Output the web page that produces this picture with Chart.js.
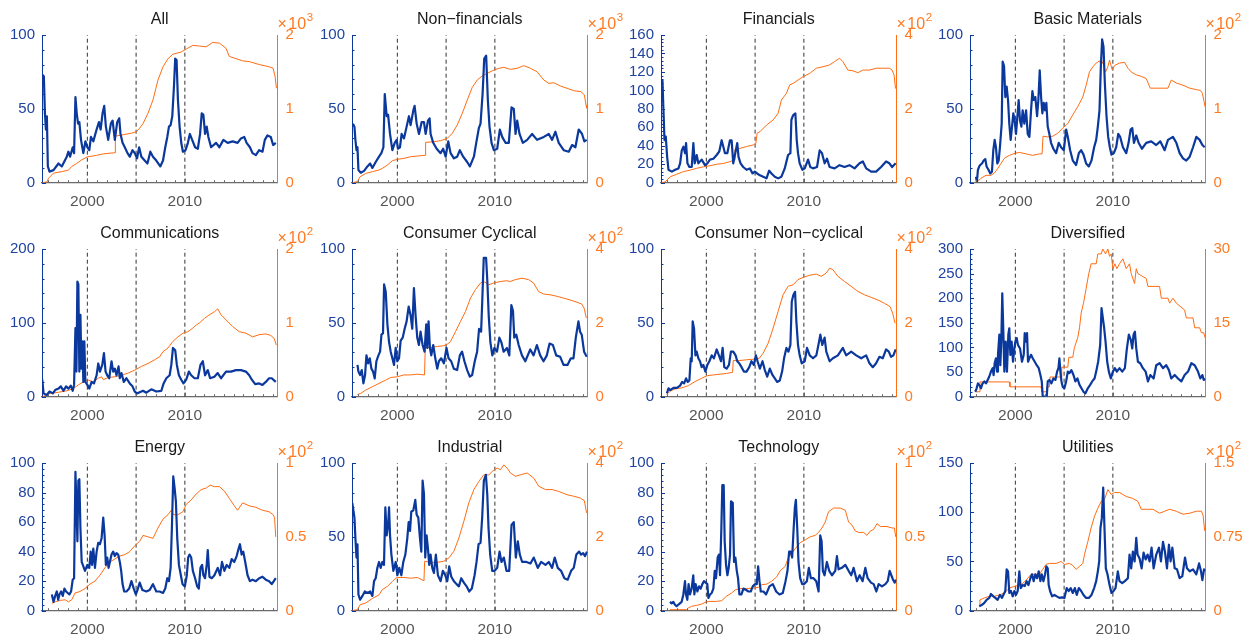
<!DOCTYPE html>
<html>
<head>
<meta charset="utf-8">
<script src="https://cdn.jsdelivr.net/npm/chart.js@4.4.0/dist/chart.umd.min.js"></script>
<style>
  html, body { margin: 0; padding: 0; background: #fff; }
  body { width: 1255px; height: 641px; position: relative; overflow: hidden; }
  canvas { position: absolute; }
</style>
</head>
<body>
<script>
// ---- data: [year, value] pairs ----
const allLeft = [[1995.38,73],[1995.54,72],[1995.65,47],[1995.75,36],[1995.85,45],[1995.95,11],[1996.12,7.5],[1996.53,8.5],[1997.04,13],[1997.38,11],[1997.89,17.6],[1998.06,21],[1998.23,17.6],[1998.5,24],[1998.64,20],[1998.78,58],[1998.91,47],[1999.05,40],[1999.18,41],[1999.35,29],[1999.59,20],[1999.8,28],[2000,24],[2000.2,22],[2000.37,31],[2000.61,28],[2000.95,36],[2001.19,41],[2001.36,36],[2001.56,47],[2001.73,52],[2001.9,38],[2002.14,29],[2002.41,40],[2002.59,42],[2002.82,29],[2003.06,41],[2003.27,43.6],[2003.4,33],[2003.61,27],[2003.84,24],[2004.12,20],[2004.35,17.6],[2004.63,22],[2004.86,20],[2005.1,16.5],[2005.31,24],[2005.54,17.6],[2005.88,15],[2006.16,13],[2006.46,21],[2006.73,17.6],[2007.07,15],[2007.48,11],[2007.76,15],[2007.99,24],[2008.2,31],[2008.37,38],[2008.54,39],[2008.71,45],[2008.88,65],[2009.01,84],[2009.15,83],[2009.29,56],[2009.46,38],[2009.63,27],[2009.8,21],[2010.07,22],[2010.31,27],[2010.51,33],[2010.75,29],[2011.05,24],[2011.33,23],[2011.56,33],[2011.73,47],[2011.9,46],[2012.07,33],[2012.24,38],[2012.41,31],[2012.69,24],[2013.2,27],[2013.54,24],[2013.95,29],[2014.39,27],[2014.9,28],[2015.41,27],[2015.75,30],[2016.09,31],[2016.33,27],[2016.67,24],[2016.94,20],[2017.28,18.7],[2017.62,22],[2017.96,21],[2018.2,29],[2018.47,32],[2018.81,31],[2019.05,25.5],[2019.32,27]];
const allRight = [[1995.38,0],[1995.85,10],[1996.02,60],[1996.53,130],[1997.38,150],[1998.06,170],[1998.4,220],[1998.91,260],[1999.42,310],[2000,350],[2000.95,370],[2001.63,390],[2002.31,400],[2002.84,405],[2002.87,630],[2003.67,650],[2004.52,670],[2005.03,690],[2005.37,740],[2005.71,800],[2006.22,940],[2006.73,1120],[2007.24,1390],[2007.76,1570],[2008.27,1680],[2008.78,1740],[2009.63,1770],[2010.14,1810],[2010.82,1860],[2011.5,1850],[2012.18,1840],[2012.86,1900],[2013.54,1890],[2014.22,1820],[2014.56,1710],[2015.24,1680],[2015.92,1650],[2016.6,1640],[2017.62,1600],[2018.64,1570],[2019.05,1550],[2019.25,1440],[2019.39,1280]];

const nonFinLeft = [[1995.38,40],[1995.6,38],[1995.7,29],[1995.81,22],[1995.91,24],[1996.01,8.6],[1996.25,6.8],[1996.59,8],[1996.93,11],[1997.21,13],[1997.44,10],[1997.78,14],[1998.12,17.6],[1998.36,20],[1998.57,24],[1998.71,60],[1998.91,45],[1999.05,46],[1999.25,33],[1999.49,22],[1999.73,27],[1999.93,29],[2000.07,23],[2000.27,24],[2000.44,33],[2000.68,30],[2001.02,40],[2001.19,45],[2001.36,39],[2001.64,49],[2001.77,52],[2001.98,40],[2002.22,33],[2002.49,41],[2002.73,41],[2002.9,33],[2003.14,42],[2003.31,43.6],[2003.41,33],[2003.68,27],[2004.03,23],[2004.43,20],[2004.7,23],[2004.95,17.6],[2005.22,28],[2005.46,20],[2005.8,16.5],[2006.14,17.6],[2006.41,22],[2006.75,17.6],[2007.16,14],[2007.44,11],[2007.85,17.6],[2008.09,27],[2008.36,37],[2008.53,40],[2008.74,60],[2008.91,84],[2009.11,86],[2009.28,56],[2009.45,38],[2009.66,27],[2009.9,22],[2010.24,23],[2010.51,36],[2010.75,31],[2011.09,27],[2011.43,27],[2011.71,51],[2011.94,50],[2012.12,33],[2012.29,42],[2012.53,33],[2012.87,27],[2013.31,29],[2013.82,33],[2014.33,29],[2015.02,31],[2015.53,33],[2015.87,29],[2016.21,34.5],[2016.55,27],[2017.06,22],[2017.58,21],[2017.92,25.5],[2018.26,24],[2018.6,36],[2018.94,33],[2019.18,28],[2019.42,29]];
const nonFinRight = [[1995.38,0],[1995.9,14],[1996.18,81],[1996.76,126],[1997.44,149],[1998.12,172],[1998.46,194],[1998.98,239],[1999.49,298],[2000,316],[2000.68,330],[2001.36,352],[2002.05,361],[2002.73,370],[2002.86,370],[2002.9,546],[2003.75,555],[2004.44,569],[2005.12,600],[2005.63,668],[2006.14,781],[2006.66,939],[2007.17,1120],[2007.68,1291],[2008.19,1390],[2008.7,1445],[2009.22,1481],[2009.9,1526],[2010.41,1549],[2010.92,1562],[2011.6,1535],[2012.29,1549],[2012.97,1585],[2013.65,1549],[2014.33,1503],[2015.02,1390],[2015.53,1345],[2016.04,1354],[2016.72,1309],[2017.41,1278],[2018.09,1246],[2018.84,1233],[2019.18,1187],[2019.35,1052],[2019.44,1007]];

const finLeft = [[1995.38,111],[1995.5,111],[1995.6,79],[1995.71,46],[1995.84,50],[1995.98,28],[1996.12,14],[1996.46,12],[1996.8,14],[1997.14,15.5],[1997.31,21],[1997.48,35],[1997.65,39],[1997.82,32],[1997.92,43],[1998.06,21],[1998.26,17],[1998.5,17],[1998.67,43],[1998.81,21],[1999.01,30],[1999.18,21],[1999.52,25],[1999.86,19],[2000.1,21],[2000.37,25],[2000.72,26],[2001.06,30],[2001.33,34],[2001.57,46],[2001.74,39],[2001.91,32],[2002.15,32],[2002.42,46],[2002.59,46],[2002.76,21],[2002.93,30],[2003.17,43],[2003.3,28],[2003.51,21],[2003.78,17],[2004.12,14],[2004.46,15.5],[2004.74,10],[2004.97,12],[2005.21,10],[2005.49,8],[2005.83,6.5],[2006.17,4.7],[2006.44,13],[2006.68,10],[2007.02,6.5],[2007.36,4.7],[2007.7,6.5],[2008.04,15.5],[2008.38,30],[2008.62,32],[2008.72,68],[2008.89,73],[2009.13,75],[2009.27,46],[2009.4,32],[2009.57,21],[2009.85,14],[2010.09,15.5],[2010.43,25],[2010.66,17],[2010.94,15.5],[2011.35,17],[2011.62,35],[2011.86,32],[2012.13,21],[2012.37,26],[2012.64,17],[2013.15,15.5],[2013.66,19],[2014.17,17],[2014.68,19],[2015.2,15.5],[2015.71,21],[2016.05,23],[2016.39,15.5],[2016.9,12],[2017.41,12],[2017.92,17],[2018.43,23],[2018.77,21],[2019.05,17],[2019.42,21]];
const finRight = [[1995.38,0],[1995.78,2],[1995.95,7],[1996.29,16],[1996.97,23],[1997.65,30],[1998.33,34],[1999.01,39],[1999.69,43],[2000.37,46],[2001.06,50],[2001.74,52],[2002.42,57],[2002.76,61],[2002.9,61],[2002.93,90],[2003.44,93],[2004.12,98],[2004.8,102],[2005.08,107],[2005.21,134],[2005.49,138],[2006.17,156],[2006.85,170],[2007.36,188],[2007.7,224],[2008.21,242],[2008.55,265],[2008.89,269],[2009.4,278],[2009.91,287],[2010.6,296],[2011.28,310],[2011.96,314],[2012.64,319],[2013.15,328],[2013.66,337],[2014,328],[2014.51,305],[2015.03,303],[2015.54,298],[2016.05,305],[2016.73,305],[2017.41,310],[2018.09,310],[2018.77,310],[2019.05,305],[2019.25,292],[2019.4,255]];

const basicLeft = [[1995.96,4],[1996.06,0.7],[1996.16,8.6],[1996.3,11],[1996.4,12],[1996.58,13],[1996.75,15],[1996.92,16],[1997.05,11],[1997.26,8.6],[1997.43,6.3],[1997.6,7.4],[1997.74,22],[1997.88,29],[1998.01,24],[1998.15,13],[1998.29,15],[1998.42,24],[1998.6,40],[1998.7,82],[1998.84,79],[1998.97,58],[1999.11,65],[1999.25,56],[1999.38,40],[1999.52,29],[1999.66,38],[1999.79,47],[1999.93,42],[2000.07,33],[2000.21,45],[2000.34,56],[2000.48,42],[2000.62,38],[2000.75,49],[2000.92,40],[2001.1,49],[2001.27,33],[2001.44,31],[2001.61,49],[2001.75,62],[2001.88,56],[2002.05,58],[2002.23,45],[2002.36,56],[2002.5,76],[2002.64,58],[2002.77,47],[2002.91,54],[2003.05,49],[2003.18,54],[2003.32,38],[2003.49,33],[2003.66,27],[2003.9,23],[2004.18,20],[2004.45,27],[2004.69,24],[2004.97,22],[2005.21,36],[2005.38,31],[2005.62,22],[2005.89,15],[2006.23,12],[2006.51,20],[2006.75,22],[2006.99,19],[2007.26,13],[2007.53,11],[2007.81,15],[2008.08,24],[2008.29,29],[2008.46,38],[2008.63,49],[2008.77,79],[2008.9,97],[2009.04,92],[2009.18,67],[2009.35,45],[2009.52,31],[2009.69,24],[2009.86,19],[2010.1,20],[2010.34,24],[2010.55,33],[2010.75,31],[2011.03,24],[2011.37,20],[2011.61,27],[2011.82,36],[2011.99,37],[2012.16,27],[2012.4,32],[2012.64,27],[2012.98,23],[2013.42,27],[2013.94,28],[2014.45,25.5],[2014.86,28],[2015.31,22],[2015.65,29],[2016.16,31],[2016.51,27],[2016.85,20],[2017.19,16.5],[2017.53,15],[2017.88,17.6],[2018.22,24],[2018.56,31],[2018.9,29],[2019.18,25.5],[2019.42,24]];
const basicRight = [[1995.96,0],[1996.13,1.4],[1996.47,6],[1996.99,10],[1997.5,10],[1997.84,13],[1998.18,19],[1998.53,26],[1998.87,33],[1999.38,37],[2000,40],[2000.41,41],[2001.1,39],[2001.78,37],[2002.47,39],[2002.74,39],[2002.84,63],[2003.32,62],[2003.84,63],[2004.35,67],[2004.86,74],[2005.38,80],[2005.89,92],[2006.4,103],[2006.92,116],[2007.26,132],[2007.6,150],[2007.95,157],[2008.29,162],[2008.63,165],[2008.8,159],[2008.97,164],[2009.25,150],[2009.49,157],[2009.66,166],[2009.93,153],[2010.21,159],[2010.68,162],[2011.2,163],[2011.54,155],[2011.88,150],[2012.4,146],[2012.91,144],[2013.42,141],[2013.84,128],[2014.45,128],[2015.14,128],[2015.65,128],[2015.99,139],[2016.51,135],[2017.19,132],[2017.88,128],[2018.56,126],[2018.97,125],[2019.18,121],[2019.35,110],[2019.45,103]];

const commLeft = [[1995.38,23],[1995.51,4.5],[1995.85,2.3],[1996.12,7],[1996.46,4.5],[1996.7,9],[1997.04,11],[1997.28,14],[1997.55,8],[1997.82,14],[1998.06,11],[1998.3,15],[1998.5,8],[1998.64,16],[1998.78,93],[1998.88,34],[1998.98,156],[1999.08,152],[1999.18,34],[1999.29,111],[1999.39,38],[1999.49,75],[1999.59,20],[1999.69,75],[1999.8,20],[2000,16],[2000.2,11],[2000.44,20],[2000.68,18],[2000.95,29],[2001.12,45],[2001.29,34],[2001.53,43],[2001.7,59],[2001.87,34],[2002.04,29],[2002.24,25],[2002.48,48],[2002.65,34],[2002.82,38],[2002.99,29],[2003.2,41],[2003.33,25],[2003.5,32],[2003.74,20],[2004.01,25],[2004.35,18],[2004.63,14],[2004.86,7],[2005.1,4.5],[2005.37,6],[2005.71,8],[2006.05,5.4],[2006.56,10],[2007.07,7],[2007.59,8],[2007.82,18],[2008.1,25],[2008.44,29],[2008.61,43],[2008.78,66],[2009.01,63],[2009.18,43],[2009.39,29],[2009.63,23],[2009.86,18],[2010.14,23],[2010.41,34],[2010.65,29],[2010.99,25],[2011.33,25],[2011.6,43],[2011.84,48],[2012.07,29],[2012.35,36],[2012.59,25],[2013.03,27],[2013.37,32],[2013.71,25],[2014.22,34],[2014.73,34],[2015.24,36],[2015.75,36],[2016.26,34],[2016.6,29],[2016.87,23],[2017.21,17],[2017.62,18],[2017.96,16],[2018.3,20],[2018.64,25],[2018.91,25],[2019.32,20]];
const commRight = [[1995.38,0],[1995.68,1.4],[1996.19,4.5],[1997.04,6],[1997.89,8],[1998.57,11],[1999.08,16],[1999.59,20],[2000,23],[2000.61,20],[2001.12,25],[2001.46,27],[2001.63,23],[2002.14,26],[2002.82,27],[2003.5,29],[2004.18,32],[2004.86,36],[2005.54,41],[2006.22,45],[2006.9,50],[2007.41,54],[2007.76,61],[2008.27,66],[2008.78,75],[2009.29,81],[2009.8,86],[2010.31,88],[2010.82,93],[2011.16,97],[2011.5,100],[2012.01,106],[2012.52,111],[2013.03,115],[2013.37,119],[2013.71,111],[2014.22,104],[2014.9,95],[2015.58,88],[2016.26,86],[2016.94,81],[2017.62,84],[2018.3,85],[2018.81,83],[2019.15,79],[2019.38,70]];

const cycLeft = [[1995.91,21.5],[1996.01,17],[1996.18,14.7],[1996.35,18],[1996.52,9],[1996.69,14.7],[1996.83,28],[1997,22.6],[1997.17,26],[1997.34,19],[1997.51,17],[1997.68,12.4],[1997.85,24],[1998.06,28],[1998.23,30.5],[1998.37,42],[1998.53,43],[1998.64,76],[1998.81,71],[1998.98,49],[1999.15,37],[1999.32,30.5],[1999.49,26],[1999.66,21.5],[1999.83,33],[2000,24],[2000.17,26],[2000.34,38],[2000.55,40],[2000.75,46],[2000.95,51],[2001.16,61],[2001.36,55],[2001.53,46],[2001.7,73.5],[2001.87,55],[2002.04,40],[2002.21,35],[2002.38,44],[2002.59,35],[2002.79,30.5],[2002.96,49],[2003.07,33],[2003.2,51],[2003.34,33],[2003.48,28],[2003.68,35],[2003.89,26],[2004.09,19],[2004.26,24],[2004.5,26],[2004.77,22.6],[2005.04,33],[2005.25,26],[2005.52,24],[2005.79,19],[2006.13,18],[2006.41,28],[2006.64,30.5],[2006.88,24],[2007.16,18],[2007.43,13.6],[2007.67,14.7],[2007.94,24],[2008.18,30.5],[2008.38,46],[2008.59,44],[2008.72,67],[2008.86,94],[2009.1,94],[2009.23,78],[2009.37,55],[2009.54,37],[2009.74,28],[2009.95,33],[2010.22,30.5],[2010.46,40],[2010.66,37],[2010.9,30.5],[2011.24,33],[2011.48,28],[2011.69,62],[2011.86,58],[2011.99,40],[2012.2,42],[2012.44,35],[2012.78,28],[2013.12,24],[2013.63,32],[2013.97,28],[2014.31,35],[2014.65,28],[2014.99,24],[2015.33,28],[2015.61,36],[2015.95,35],[2016.29,28],[2016.7,27],[2017.04,21.5],[2017.45,21.5],[2017.79,26],[2018.06,26],[2018.3,40],[2018.57,51],[2018.74,44],[2018.91,42],[2019.15,30.5],[2019.42,27]];
const cycRight = [[1995.91,6],[1996.25,9],[1996.76,18],[1997.44,27],[1998.12,36],[1998.81,45],[1999.32,52],[2000,54],[2000.68,59],[2001.36,59],[2002.04,61],[2002.79,59],[2002.86,133],[2003.41,133],[2004.09,136],[2004.77,138],[2005.11,142],[2005.45,149],[2005.96,176],[2006.48,204],[2006.99,231],[2007.5,267],[2008.01,290],[2008.53,308],[2008.87,312],[2009.37,303],[2009.88,308],[2010.56,312],[2011.24,314],[2011.58,312],[2012.09,317],[2012.78,321],[2013.46,317],[2013.97,308],[2014.48,285],[2014.99,278],[2015.67,276],[2016.36,272],[2017.04,267],[2017.72,262],[2018.4,256],[2018.91,251],[2019.15,240],[2019.38,213]];

const nonCycLeft = [[1995.95,2.3],[1996.12,5.7],[1996.29,4.5],[1996.63,6],[1996.97,6],[1997.31,7.5],[1997.51,10],[1997.72,9],[1997.92,12.4],[1998.09,10],[1998.26,11],[1998.4,26],[1998.5,24],[1998.6,51],[1998.74,46],[1998.88,28],[1999.01,30.5],[1999.18,26],[1999.35,24],[1999.52,20],[1999.69,21.5],[1999.9,17],[2000.1,21.5],[2000.31,24],[2000.55,28],[2000.78,26],[2001.06,32],[2001.29,28],[2001.5,24],[2001.67,33],[2001.84,20],[2002.08,19],[2002.32,21.5],[2002.52,30.5],[2002.76,30.5],[2003,28],[2003.17,24],[2003.37,22.6],[2003.61,20],[2003.85,17],[2004.12,17],[2004.4,20],[2004.63,24],[2004.87,21.5],[2005.08,28],[2005.25,24],[2005.49,19],[2005.76,24],[2006,18],[2006.24,13.6],[2006.51,19],[2006.78,14.7],[2007.02,12.4],[2007.26,10],[2007.53,11],[2007.77,17],[2007.97,26],[2008.21,33],[2008.42,30.5],[2008.62,35],[2008.76,64.5],[2008.93,69],[2009.1,71],[2009.23,51],[2009.4,35],[2009.57,28],[2009.78,22.6],[2010.09,24],[2010.32,33],[2010.6,28],[2010.94,26],[2011.28,28],[2011.55,37],[2011.69,42],[2011.89,35],[2012.13,40],[2012.3,30.5],[2012.64,24],[2012.98,26],[2013.49,28],[2014,33],[2014.34,28],[2014.85,30.5],[2015.37,28],[2015.88,26],[2016.39,28],[2016.73,22.6],[2017.07,20],[2017.41,22.6],[2017.75,27],[2018.09,26],[2018.43,32],[2018.71,30.5],[2018.94,27],[2019.18,28],[2019.42,32]];
const nonCycRight = [[1995.95,6],[1996.29,15],[1996.8,21],[1997.48,24],[1998.16,30],[1998.84,41],[1999.52,50],[2000.1,57],[2000.72,59],[2001.4,61],[2002.08,63],[2002.69,66],[2002.76,98],[2003.44,98],[2004.12,100],[2004.97,102],[2005.42,104],[2005.83,118],[2006.34,145],[2006.85,186],[2007.36,231],[2007.87,276],[2008.38,299],[2008.89,303],[2009.4,317],[2009.91,323],[2010.6,329],[2011.28,332],[2011.79,326],[2012.3,335],[2012.64,348],[2012.98,344],[2013.49,326],[2014.17,312],[2014.85,299],[2015.54,285],[2016.22,276],[2016.9,269],[2017.58,262],[2018.26,253],[2018.84,244],[2019.11,226],[2019.35,199]];

const divLeft = [[1995.89,10],[1996.03,17],[1996.16,27],[1996.3,24],[1996.47,17],[1996.64,27],[1996.82,31],[1996.99,27],[1997.16,34],[1997.33,41],[1997.5,51],[1997.67,58],[1997.77,44],[1997.88,68],[1998.01,78],[1998.12,51],[1998.22,85],[1998.36,126],[1998.46,64],[1998.56,112],[1998.66,210],[1998.77,132],[1998.87,51],[1999.01,112],[1999.14,51],[1999.28,126],[1999.38,139],[1999.49,85],[1999.62,112],[1999.76,71],[1999.9,98],[2000,112],[2000.14,119],[2000.27,105],[2000.48,98],[2000.68,71],[2000.86,85],[2000.96,129],[2001.1,112],[2001.2,129],[2001.3,71],[2001.44,78],[2001.61,85],[2001.78,78],[2001.99,71],[2002.19,64],[2002.4,58],[2002.57,44],[2002.71,31],[2002.81,0],[2003.01,0],[2003.22,0],[2003.32,31],[2003.49,34],[2003.7,27],[2003.9,37],[2004.11,34],[2004.28,51],[2004.42,58],[2004.52,78],[2004.62,51],[2004.73,31],[2004.86,20],[2005.03,17],[2005.21,31],[2005.38,51],[2005.55,48],[2005.75,54],[2005.96,44],[2006.16,31],[2006.37,37],[2006.58,24],[2006.78,17],[2006.99,10],[2007.19,7],[2007.43,17],[2007.67,24],[2007.88,31],[2008.12,37],[2008.29,51],[2008.49,71],[2008.7,105],[2008.84,180],[2008.97,160],[2009.11,139],[2009.25,112],[2009.42,71],[2009.59,51],[2009.79,37],[2010,51],[2010.21,58],[2010.41,51],[2010.68,58],[2010.96,51],[2011.23,58],[2011.44,98],[2011.64,126],[2011.85,115],[2011.99,98],[2012.12,126],[2012.26,132],[2012.4,98],[2012.57,71],[2012.81,68],[2013.08,58],[2013.36,51],[2013.6,31],[2013.84,44],[2014.18,37],[2014.45,64],[2014.79,68],[2015.14,58],[2015.48,64],[2015.75,54],[2015.99,37],[2016.34,44],[2016.68,37],[2017.02,31],[2017.36,44],[2017.71,51],[2018.05,68],[2018.39,64],[2018.73,51],[2018.97,37],[2019.18,44],[2019.32,34],[2019.45,37]];
const divRight = [[1995.89,1],[1996.3,1],[1996.37,3],[1999.38,3],[1999.45,2],[2002.64,2],[2002.71,1],[2003.15,1],[2003.22,2],[2003.49,2],[2003.56,4],[2004.69,4],[2004.76,6],[2005.38,6],[2005.48,8],[2005.89,8],[2006.06,10],[2006.23,11],[2006.4,12],[2006.58,14],[2006.75,17],[2006.99,19],[2007.26,22],[2007.53,25],[2007.77,27],[2008.29,27],[2008.46,29],[2008.8,29],[2008.97,30],[2009.25,29],[2009.49,30],[2009.66,28.5],[2009.83,29],[2010,26],[2010.21,27],[2010.41,26],[2010.68,27],[2011.03,28],[2011.37,26],[2011.71,27],[2011.88,25],[2012.23,23],[2012.4,26],[2012.57,25],[2013.08,24.4],[2013.42,24],[2013.6,22.4],[2014.79,22.4],[2014.97,20],[2015.65,20],[2015.82,19],[2016.16,20],[2016.51,19],[2017.36,17.6],[2017.53,16],[2018.22,16],[2018.39,14],[2018.9,14],[2019.08,13],[2019.32,13],[2019.45,12]];

const energyLeft = [[1996.36,11],[1996.53,6],[1996.7,10],[1996.87,13],[1997.01,7.4],[1997.14,11],[1997.31,13],[1997.48,10],[1997.65,15],[1997.82,13],[1997.99,12],[1998.16,11],[1998.33,13],[1998.5,21],[1998.64,22],[1998.78,94],[1998.88,72],[1998.98,47],[1999.08,88],[1999.18,89],[1999.29,56],[1999.42,33],[1999.59,30],[1999.76,27],[2000,31],[2000.2,29],[2000.34,40],[2000.48,31],[2000.61,42],[2000.78,29],[2000.95,40],[2001.12,46],[2001.29,45],[2001.46,49],[2001.63,63],[2001.77,51],[2001.9,31],[2002.04,36],[2002.18,29],[2002.31,33],[2002.48,38],[2002.65,40],[2002.82,37],[2002.99,39],[2003.16,38],[2003.33,33],[2003.47,27],[2003.61,18],[2003.78,13],[2004.01,13],[2004.29,15],[2004.52,20],[2004.76,15],[2004.97,11],[2005.14,14],[2005.37,19],[2005.65,14],[2006.05,13],[2006.39,14],[2006.73,18],[2007.07,13],[2007.41,13],[2007.76,12],[2007.99,15],[2008.2,22],[2008.37,20],[2008.54,29],[2008.67,56],[2008.81,91],[2008.95,83],[2009.08,74],[2009.22,49],[2009.39,31],[2009.59,24],[2009.76,18],[2010,16.5],[2010.2,24],[2010.34,36],[2010.48,38],[2010.65,36],[2010.82,27],[2011.05,22],[2011.26,16.5],[2011.43,15],[2011.6,29],[2011.77,31],[2011.9,24],[2012.07,22],[2012.24,31],[2012.35,41],[2012.52,23],[2012.76,22],[2013.03,24],[2013.37,29],[2013.61,24],[2013.81,33],[2014.05,27],[2014.29,31],[2014.56,29],[2014.8,35],[2015.07,33],[2015.31,37],[2015.51,42],[2015.65,45],[2015.82,38],[2015.99,40],[2016.19,33],[2016.43,24],[2016.67,20],[2016.94,21],[2017.28,20],[2017.62,22],[2017.96,23],[2018.3,21],[2018.64,20],[2018.91,18],[2019.12,20],[2019.32,22]];
const energyRight = [[1996.36,5],[1996.7,6],[1997.21,7],[1997.72,7.4],[1998.06,6],[1998.4,7.4],[1998.74,12],[1999.25,13],[1999.76,15],[2000.27,18],[2000.78,20],[2001.29,24],[2001.8,29],[2002.31,33],[2002.82,35],[2003.33,37],[2003.84,38],[2004.35,40],[2004.86,44],[2005.37,47],[2005.71,51],[2006.22,50],[2006.73,49],[2007.24,56],[2007.76,62],[2008.27,65],[2008.61,68],[2008.84,65],[2009.29,65],[2009.8,67],[2010.14,72],[2010.65,75],[2011.16,79],[2011.67,82],[2012.18,83],[2012.59,85],[2013.03,84],[2013.54,84],[2014.05,81],[2014.56,76],[2015.07,71],[2015.41,68],[2015.92,73],[2016.6,71],[2017.28,70],[2017.96,68],[2018.64,67],[2019.05,65],[2019.2,63],[2019.32,50]];

const indLeft = [[1995.38,73],[1995.6,63],[1995.7,49],[1995.81,36],[1995.91,45],[1996.01,11],[1996.18,7.4],[1996.42,10],[1996.66,13],[1996.93,12],[1997.21,13],[1997.44,10],[1997.61,20],[1997.78,22],[1997.95,29],[1998.12,33],[1998.29,29],[1998.46,33],[1998.63,31],[1998.77,70],[1998.91,51],[1999.05,58],[1999.15,70],[1999.25,51],[1999.39,38],[1999.59,27],[1999.83,33],[2000,24],[2000.2,29],[2000.41,24],[2000.61,33],[2000.82,38],[2001.02,49],[2001.16,60],[2001.3,54],[2001.43,67],[2001.64,68],[2001.84,75],[2001.98,65],[2002.15,63],[2002.32,49],[2002.46,40],[2002.59,88],[2002.73,79],[2002.86,36],[2003,51],[2003.14,42],[2003.27,31],[2003.41,38],[2003.58,29],[2003.75,25.5],[2003.95,38],[2004.16,24],[2004.43,20],[2004.67,27],[2004.91,24],[2005.12,20],[2005.32,30],[2005.53,23],[2005.8,20],[2006.07,18],[2006.31,16.5],[2006.55,22],[2006.82,19],[2007.1,16.5],[2007.37,13],[2007.64,15],[2007.92,24],[2008.12,33],[2008.33,45],[2008.53,46],[2008.7,63],[2008.87,88],[2009.08,92],[2009.22,79],[2009.35,56],[2009.52,38],[2009.73,27],[2009.97,27],[2010.24,29],[2010.48,40],[2010.68,33],[2010.92,36],[2011.19,27],[2011.47,27],[2011.71,58],[2011.94,60],[2012.15,36],[2012.35,47],[2012.56,38],[2012.8,33],[2013.24,33],[2013.65,32],[2013.99,36],[2014.4,29],[2014.74,33],[2015.19,31],[2015.53,33],[2015.87,29],[2016.14,36],[2016.45,29],[2016.79,27],[2017.13,22],[2017.47,21],[2017.82,27],[2018.09,29],[2018.36,38],[2018.64,40],[2018.84,38],[2019.05,39],[2019.25,37],[2019.45,40]];
const indRight = [[1995.38,0],[1995.91,3],[1996.18,16],[1996.76,21],[1997.44,33],[1998.12,43],[1998.46,57],[1998.98,66],[1999.49,79],[1999.83,88],[2000,90],[2000.68,90],[2001.36,88],[2002.05,90],[2002.73,81],[2002.8,134],[2003.41,131],[2004.09,131],[2004.77,134],[2005.29,143],[2005.8,161],[2006.31,197],[2006.82,242],[2007.33,292],[2007.85,328],[2008.36,350],[2008.87,368],[2009.38,368],[2009.73,377],[2010.24,386],[2010.58,382],[2010.92,395],[2011.26,386],[2011.6,373],[2012.11,364],[2012.62,368],[2013.31,373],[2013.99,359],[2014.5,337],[2015.19,328],[2015.87,328],[2016.55,323],[2017.41,314],[2018.09,310],[2018.77,305],[2019.18,298],[2019.4,265]];

const techLeft = [[1996.27,6],[1996.44,5],[1996.61,6],[1996.78,4],[1996.95,3],[1997.12,4],[1997.29,5],[1997.47,6],[1997.64,11],[1997.81,20],[1997.91,11],[1998.05,7.4],[1998.18,18],[1998.32,11],[1998.49,15],[1998.66,24],[1998.77,11],[1998.9,18],[1999.08,13],[1999.25,16.5],[1999.42,15],[1999.59,18],[1999.76,20],[1999.93,19],[2000.1,18],[2000.21,8.6],[2000.38,11],[2000.55,12],[2000.72,15],[2000.86,27],[2000.99,22],[2001.16,36],[2001.3,38],[2001.4,24],[2001.54,56],[2001.64,85],[2001.78,85],[2001.88,47],[2002.02,31],[2002.16,24],[2002.29,29],[2002.43,38],[2002.53,74],[2002.71,73],[2002.84,33],[2002.98,36],[2003.12,27],[2003.25,22],[2003.39,11],[2003.6,11],[2003.8,15],[2004.08,14],[2004.32,13],[2004.55,13],[2004.76,16.5],[2005,18],[2005.17,18],[2005.31,30],[2005.45,20],[2005.58,13],[2005.86,13],[2006.13,11],[2006.47,16.5],[2006.82,18],[2007.16,13],[2007.5,11],[2007.84,12],[2008.12,20],[2008.32,27],[2008.49,40],[2008.66,40],[2008.8,36],[2008.94,54],[2009.08,70],[2009.18,75],[2009.32,56],[2009.45,33],[2009.62,22],[2009.83,18],[2010.03,18],[2010.31,20],[2010.51,29],[2010.72,22],[2010.99,22],[2011.27,20],[2011.51,13],[2011.68,51],[2011.82,47],[2011.95,27],[2012.12,24],[2012.36,33],[2012.6,27],[2012.88,24],[2013.22,27],[2013.39,37],[2013.56,28],[2013.9,29],[2014.25,31],[2014.59,27],[2014.86,24],[2015.1,29],[2015.45,20],[2015.72,24],[2016.03,20],[2016.3,29],[2016.54,22],[2016.88,19],[2017.16,18],[2017.43,13],[2017.67,18],[2018.01,16.5],[2018.36,18],[2018.6,20],[2018.8,27],[2018.97,24],[2019.14,21],[2019.32,19],[2019.45,21]];
const techRight = [[1996.27,0.7],[1997.29,0.7],[1997.98,0.7],[1998.15,1.8],[1998.49,3],[1999.01,3.6],[1999.52,4.5],[2000,6],[2000.38,6.3],[2001.06,6.3],[2001.58,6.8],[2002.09,10],[2002.6,12],[2002.95,14],[2003.46,15],[2004.14,15],[2004.83,15.3],[2005.34,15.8],[2005.68,17.6],[2006.2,18],[2006.71,20],[2007.23,23],[2007.57,27],[2008.08,30],[2008.42,36],[2008.77,39],[2009.11,42],[2009.62,46],[2010.14,48],[2010.65,50],[2011.16,51],[2011.51,53],[2011.85,56],[2012.19,60],[2012.53,67],[2013.05,69.5],[2013.73,69.5],[2014.25,68],[2014.59,60],[2014.93,58],[2015.27,54],[2015.62,53],[2016.13,53],[2016.47,51],[2016.82,54],[2017.16,55],[2017.5,59],[2017.84,57],[2018.53,57],[2019.05,56],[2019.28,56],[2019.42,50]];

const utilLeft = [[1996.3,4.4],[1996.58,6],[1996.82,8],[1997.05,11],[1997.33,13],[1997.5,17],[1997.74,14.6],[1997.95,13],[1998.18,11],[1998.42,16],[1998.63,13],[1998.77,16],[1998.97,20],[1999.11,42],[1999.25,40],[1999.38,18],[1999.55,20],[1999.73,14.6],[1999.9,20],[2000.07,16],[2000.24,20],[2000.41,40],[2000.55,23],[2000.75,26],[2000.96,25],[2001.16,30],[2001.34,26],[2001.54,33],[2001.71,37],[2001.88,30],[2002.05,37],[2002.23,33],[2002.4,40],[2002.57,30],[2002.71,37],[2002.88,30],[2003.05,37],[2003.18,45],[2003.32,43],[2003.42,26],[2003.56,20],[2003.77,14.6],[2004.01,16],[2004.25,14.6],[2004.52,13],[2004.79,13.5],[2005.03,13],[2005.27,23],[2005.48,20],[2005.68,23],[2005.89,18],[2006.1,23],[2006.3,16],[2006.51,23],[2006.75,20],[2006.99,16],[2007.26,13],[2007.53,13],[2007.81,16],[2008.08,23],[2008.29,30],[2008.46,40],[2008.6,50],[2008.73,84],[2008.87,94],[2009.01,125],[2009.14,84],[2009.28,43],[2009.45,37],[2009.66,26],[2009.86,18],[2010.07,20],[2010.27,23],[2010.51,40],[2010.68,30],[2010.96,28],[2011.23,30],[2011.54,33],[2011.71,57],[2011.88,43],[2012.05,60],[2012.23,50],[2012.4,74],[2012.53,57],[2012.74,53],[2012.95,43],[2013.15,59],[2013.36,52],[2013.56,57],[2013.77,50],[2013.97,64],[2014.18,43],[2014.45,57],[2014.73,64],[2014.93,50],[2015.14,70],[2015.34,60],[2015.55,43],[2015.75,67],[2015.92,50],[2016.1,64],[2016.34,43],[2016.58,42],[2016.85,33],[2017.12,35],[2017.4,54],[2017.6,43],[2017.88,40],[2018.22,42],[2018.56,37],[2018.84,48],[2019.04,40],[2019.18,31],[2019.35,42],[2019.45,40]];
const utilRight = [[1996.3,6],[1996.37,11],[1996.82,13],[1997.33,14.6],[1997.84,14.6],[1998.36,16],[1998.87,18],[1999.38,23],[2000,25],[2000.58,26],[2001.1,31],[2001.61,37],[2002.12,37],[2002.47,37],[2002.81,42],[2003.15,47],[2003.49,48],[2004.18,48],[2004.69,50],[2005.03,47],[2005.55,48],[2005.89,46],[2006.23,42],[2006.58,45],[2006.92,48],[2007.09,57],[2007.43,70],[2007.77,84],[2008.12,96],[2008.46,104],[2008.8,111],[2009.14,113],[2009.49,123],[2009.83,118],[2010.17,120],[2010.68,120],[2011.37,116],[2012.05,114],[2012.57,111],[2012.91,103],[2013.42,103],[2014.11,103],[2014.79,99],[2015.31,101],[2015.82,103],[2016.51,101],[2017.19,98],[2017.88,99],[2018.56,101],[2019.08,101],[2019.25,97],[2019.42,81]];

const titles = ['All', 'Non\u2212financials', 'Financials', 'Basic Materials',
  'Communications', 'Consumer Cyclical', 'Consumer Non\u2212cyclical', 'Diversified',
  'Energy', 'Industrial', 'Technology', 'Utilities'];
const leftSeries = [allLeft, nonFinLeft, finLeft, basicLeft, commLeft, cycLeft, nonCycLeft, divLeft, energyLeft, indLeft, techLeft, utilLeft];
const rightSeries = [allRight, nonFinRight, finRight, basicRight, commRight, cycRight, nonCycRight, divRight, energyRight, indRight, techRight, utilRight];
const leftMax = [100, 100, 160, 100, 200, 100, 100, 300, 100, 100, 100, 150];
const leftStep = [50, 50, 20, 50, 100, 50, 50, 50, 20, 50, 20, 50];
const rightMax = [2000, 2000, 400, 200, 200, 400, 400, 30, 100, 400, 100, 150];
const rightStep = [1000, 1000, 200, 100, 100, 200, 200, 15, 50, 200, 50, 75];
const rightExp = [3, 3, 2, 2, 2, 2, 2, 0, 2, 2, 2, 2];
const markYears = [2000, 2005, 2010];
const labelYears = [2000, 2010];

// ---- layout / style ----
const FONT = "'Liberation Sans', Arial, Helvetica, sans-serif";
const BLUE = '#0a389c';
const BLUE_TXT = '#1f43a0';
const ORANGE = '#ff6c12';
const ORANGE_TXT = '#ff7a22';
const X_MIN = 1995.35, X_MAX = 2019.5;
const COL_X = [0, 310, 619, 928];
const ROW_Y = [0, 214, 428];
const CW = 330, CH = 214;
const PLOT_L = 42, PLOT_W = 235.5, PLOT_T = 35, PLOT_B = 182.7;

function fmt(v) { return String(+v.toFixed(2)); }

const decor = {
  id: 'decor',
  afterDraw(chart, args, o) {
    const { ctx, chartArea: a, scales } = chart;
    ctx.save();
    // title
    ctx.fillStyle = '#1a1a1a';
    ctx.font = '16px ' + FONT;
    ctx.textAlign = 'center';
    ctx.textBaseline = 'alphabetic';
    ctx.fillText(o.title, (a.left + a.right) / 2, a.top - 11.5);
    // x10^n on the right axis
    if (o.exp) {
      ctx.fillStyle = ORANGE_TXT;
      ctx.textAlign = 'left';
      ctx.font = '16px ' + FONT;
      const t = '\u00d7';
      ctx.fillText(t, a.right, a.top - 6.5);
      const w1 = ctx.measureText(t).width + 1.5;
      ctx.fillText('10', a.right + w1, a.top - 6.5);
      const w2 = ctx.measureText('10').width;
      ctx.font = '11.5px ' + FONT;
      ctx.fillText(String(o.exp), a.right + w1 + w2 + 0.5, a.top - 14.5);
    }
    // minor ticks, inward
    ctx.lineWidth = 1;
    ctx.strokeStyle = '#666';
    for (let yr = 1996; yr <= 2019; yr++) {
      const x = Math.round(scales.x.getPixelForValue(yr)) + 0.5;
      ctx.beginPath();
      ctx.moveTo(x, a.bottom);
      ctx.lineTo(x, a.bottom - (yr % 10 === 0 ? 4 : 2.5));
      ctx.stroke();
    }
    ctx.strokeStyle = BLUE;
    const ys = scales.y, m = o.step / 5;
    for (let k = 0; k * m <= ys.max + 1e-9; k++) {
      const y = Math.round(ys.getPixelForValue(k * m)) + 0.5;
      ctx.beginPath();
      ctx.moveTo(a.left, y);
      ctx.lineTo(a.left + (k % 5 === 0 ? 4 : 2.5), y);
      ctx.stroke();
    }
    ctx.restore();
  }
};

titles.forEach((title, i) => {
  const c = document.createElement('canvas');
  c.width = CW; c.height = CH;
  c.style.left = COL_X[i % 4] + 'px';
  c.style.top = ROW_Y[Math.floor(i / 4)] + 'px';
  document.body.appendChild(c);

  const div = Math.pow(10, rightExp[i]);
  const marks = markYears.map(yr => ({
    data: [{ x: yr, y: 0 }, { x: yr, y: leftMax[i] }],
    yAxisID: 'y', borderColor: '#333', borderWidth: 1, borderDash: [4, 3],
    pointRadius: 0, order: 3
  }));

  new Chart(c, {
    type: 'line',
    data: {
      datasets: [
        { data: leftSeries[i].map(p => ({ x: p[0], y: p[1] })), yAxisID: 'y',
          borderColor: BLUE, borderWidth: 2.2, pointRadius: 0, tension: 0,
          borderJoinStyle: 'round', order: 0 },
        { data: rightSeries[i].map(p => ({ x: p[0], y: p[1] })), yAxisID: 'y1',
          borderColor: ORANGE, borderWidth: 1, pointRadius: 0, tension: 0, order: 1 },
        ...marks
      ]
    },
    options: {
      responsive: false,
      animation: false,
      devicePixelRatio: 1,
      layout: { padding: { top: PLOT_T, left: 0, right: 0, bottom: 0 } },
      plugins: {
        legend: { display: false },
        tooltip: { enabled: false },
        decor: { title: title, exp: rightExp[i], step: leftStep[i] }
      },
      scales: {
        x: {
          type: 'linear', min: X_MIN, max: X_MAX,
          afterBuildTicks: s => { s.ticks = labelYears.map(v => ({ value: v })); },
          afterFit: s => { s.height = CH - PLOT_B; },
          grid: { display: false, drawTicks: false },
          border: { display: true, color: '#6a6a6a', width: 1.2 },
          ticks: { color: '#555', font: { family: FONT, size: 15.5 }, padding: 10,
                   maxRotation: 0, autoSkip: false, callback: v => String(v) }
        },
        y: {
          position: 'left', min: 0, max: leftMax[i],
          afterFit: s => { s.width = PLOT_L; },
          grid: { display: false, drawTicks: false },
          border: { display: true, color: BLUE, width: 1 },
          ticks: { stepSize: leftStep[i], color: BLUE_TXT, autoSkip: false, padding: 7,
                   font: { family: FONT, size: 15 } }
        },
        y1: {
          position: 'right', min: 0, max: rightMax[i],
          afterFit: s => { s.width = CW - PLOT_L - PLOT_W; },
          grid: { display: false, drawTicks: false },
          border: { display: true, color: ORANGE, width: 1 },
          ticks: { stepSize: rightStep[i], color: ORANGE_TXT, autoSkip: false, padding: 8,
                   font: { family: FONT, size: 15 }, callback: v => fmt(v / div) }
        }
      }
    },
    plugins: [decor]
  });
});
</script>
</body>
</html>
